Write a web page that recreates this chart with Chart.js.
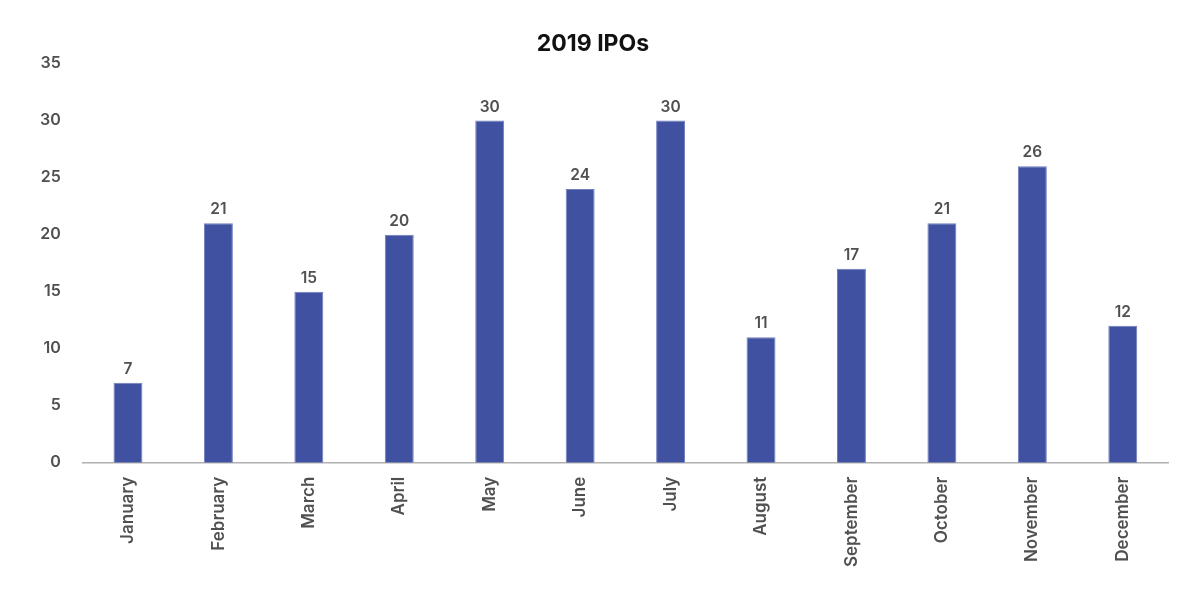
<!DOCTYPE html>
<html>
<head>
<meta charset="utf-8">
<script src="https://cdn.jsdelivr.net/npm/chart.js@4.4.1/dist/chart.umd.min.js"></script>
<style>
  html, body { margin: 0; padding: 0; background: #ffffff; }
  #wrap { width: 1200px; height: 600px; }
</style>
</head>
<body>
<div id="wrap"><canvas id="chart"></canvas></div>
<script>
const months = ["January", "February", "March", "April", "May", "June", "July",
  "August", "September", "October", "November", "December"];
const ipoCounts = [7, 21, 15, 20, 30, 24, 30, 11, 17, 21, 26, 12];
const yTicks = [0, 5, 10, 15, 20, 25, 30, 35];

const barColor = "#3f51a0";
const textColor = "#505050";

// draws the value above each bar, using the bar elements Chart.js placed
const valueLabels = {
  id: "valueLabels",
  afterDatasetsDraw(chart) {
    const ctx = chart.ctx;
    const meta = chart.getDatasetMeta(0);
    ctx.save();
    ctx.font = "600 15.5px Inter";
    ctx.fillStyle = textColor;
    ctx.textAlign = "center";
    ctx.textBaseline = "bottom";
    meta.data.forEach((bar, i) => {
      ctx.fillText(ipoCounts[i], bar.x, bar.y - 6);
    });
    ctx.restore();
  }
};

new Chart(document.getElementById("chart").getContext("2d"), {
  type: "bar",
  data: {
    labels: months,
    datasets: [{
      label: "IPOs",
      data: ipoCounts,
      backgroundColor: barColor,
      borderColor: "#6f7dbd",
      borderWidth: 1,
      categoryPercentage: 1,
      barPercentage: 0.32
    }]
  },
  options: {
    responsive: true,
    maintainAspectRatio: false,
    animation: false,
    layout: { padding: { left: 18, right: 32, top: 12, bottom: 19 } },
    plugins: {
      legend: { display: false },
      tooltip: { enabled: false },
      title: {
        display: true,
        text: "2019 IPOs",
        color: "#111111",
        font: { family: "Inter", size: 23, weight: "bold" },
        padding: { top: 18, bottom: 6 }
      }
    },
    scales: {
      x: {
        grid: { display: false, drawTicks: false },
        border: { display: true, color: "#b0b0b0", width: 1.5 },
        ticks: {
          color: textColor,
          font: { family: "Inter", size: 17, weight: "600" },
          maxRotation: 90,
          minRotation: 90,
          padding: 14
        }
      },
      y: {
        min: 0,
        max: 35,
        grid: { display: false, drawTicks: false },
        border: { display: false },
        afterBuildTicks(axis) {
          axis.ticks = yTicks.map(v => ({ value: v }));
        },
        ticks: {
          color: textColor,
          font: { family: "Inter", size: 16, weight: "600" },
          padding: 22
        }
      }
    }
  },
  plugins: [valueLabels]
});
</script>
</body>
</html>
